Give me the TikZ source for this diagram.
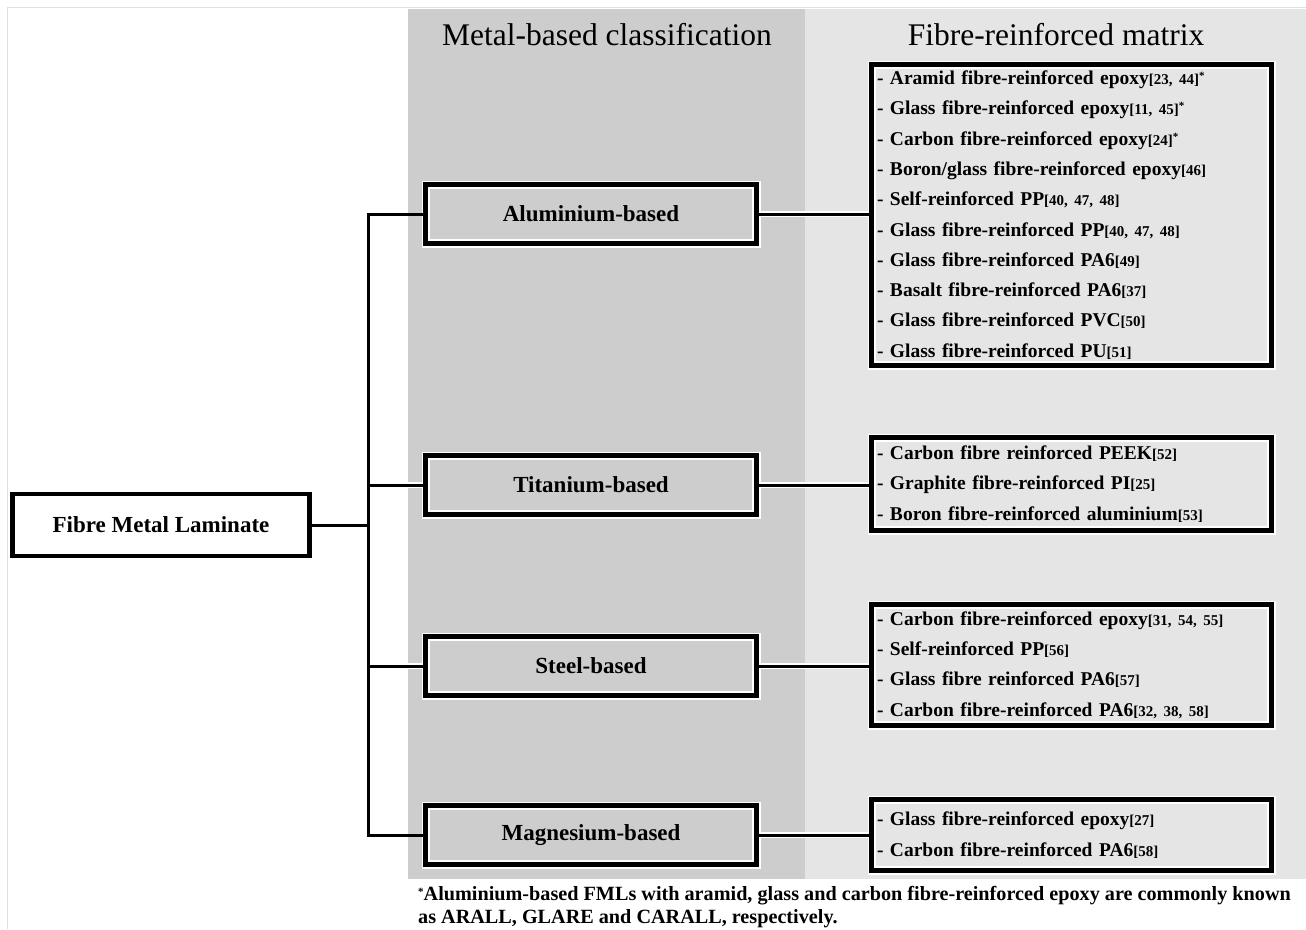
\documentclass[tikz,border=0pt]{standalone}
\usepackage{fontspec}
\setmainfont{Liberation Serif}
\usepackage{tikz}
\usetikzlibrary{positioning,calc}
\definecolor{colDark}{RGB}{205,205,205}
\definecolor{colLight}{RGB}{229,229,229}
\newcommand{\rf}[1]{{\fontsize{15}{15}\selectfont[#1]}}
\newcommand{\starmark}{\raisebox{5pt}{\fontsize{11}{11}\selectfont*}}
\tikzset{
    headtext/.style={
        font=\fontsize{31.5}{31.5}\selectfont,
        anchor=base
    },
    rootbox/.style={
        draw,
        line width=4.5pt,
        fill=white,
        minimum width=297pt,
        minimum height=62pt,
        font=\fontsize{23}{23}\selectfont\bfseries
    },
    metalbox/.style={
        draw,
        line width=4.5pt,
        fill=colDark,
        minimum width=331pt,
        minimum height=59pt,
        font=\fontsize{23}{23}\selectfont\bfseries,
        preaction={draw=white, line width=8pt}
    },
    fibrebox/.style={
        draw,
        line width=4.5pt,
        fill=colLight,
        text width=389pt,
        inner xsep=5.5pt,
        align=left,
        font=\fontsize{19.5}{30.3}\selectfont\bfseries,
        preaction={draw=white, line width=8pt}
    },
    busline/.style={
        line width=3pt
    },
    link/.style={
        busline,
        preaction={draw=white, line width=6.5pt}
    },
    inset/.style={
        white,
        line width=2.5pt
    }
}

\begin{document}
\begin{tikzpicture}[x=1pt, y=-1pt]
    \useasboundingbox (0,0) rectangle (1306,929);
    % Hintergrund
    \draw[black!12, line width=1pt] (7,929) -- (7,7) -- (1306,7);
    \fill[colDark] (408,9) rectangle (805,879);
    \fill[colLight] (805,9) rectangle (1306,879);

    % Titel
    \node[headtext] (headmetal) at (607,45) {Metal-based classification};
    \node[headtext] (headfibre) at (1056,45) {Fibre-reinforced matrix};

    % Knoten
    \node[rootbox] (fml) at (161,525) {Fibre Metal Laminate};
    \node[metalbox] (alu) at (591,214) {Aluminium-based};
    \node[metalbox] (tita) at (591,485) {Titanium-based};
    \node[metalbox] (steel) at (591,666) {Steel-based};
    \node[metalbox] (magn) at (591,835) {Magnesium-based};

    \node[fibrebox, minimum height=301pt] (alulist) at (1071.5,215) {%
        - Aramid fibre-reinforced epoxy\rf{23, 44}\starmark\\
        - Glass fibre-reinforced epoxy\rf{11, 45}\starmark\\
        - Carbon fibre-reinforced epoxy\rf{24}\starmark\\
        - Boron/glass fibre-reinforced epoxy\rf{46}\\
        - Self-reinforced PP\rf{40, 47, 48}\\
        - Glass fibre-reinforced PP\rf{40, 47, 48}\\
        - Glass fibre-reinforced PA6\rf{49}\\
        - Basalt fibre-reinforced PA6\rf{37}\\
        - Glass fibre-reinforced PVC\rf{50}\\
        - Glass fibre-reinforced PU\rf{51}};
    \node[fibrebox, minimum height=93pt] (titalist) at (1071.5,484) {%
        - Carbon fibre reinforced PEEK\rf{52}\\
        - Graphite fibre-reinforced PI\rf{25}\\
        - Boron fibre-reinforced aluminium\rf{53}};
    \node[fibrebox, minimum height=121pt] (steellist) at (1071.5,665) {%
        - Carbon fibre-reinforced epoxy\rf{31, 54, 55}\\
        - Self-reinforced PP\rf{56}\\
        - Glass fibre reinforced PA6\rf{57}\\
        - Carbon fibre-reinforced PA6\rf{32, 38, 58}};
    \node[fibrebox, minimum height=71pt] (magnlist) at (1071.5,835) {%
        - Glass fibre-reinforced epoxy\rf{27}\\
        - Carbon fibre-reinforced PA6\rf{58}};

    % weisse Innenkante
    \foreach \n in {alu,tita,steel,magn,alulist,titalist,steellist,magnlist}
        \draw[inset] ([shift={(5.75,5.75)}]\n.north west) rectangle ([shift={(-5.75,-5.75)}]\n.south east);

    % Verbindungen
    \coordinate (bus) at (368,525);
    \foreach \m/\l in {alu/alulist,tita/titalist,steel/steellist,magn/magnlist}
        \draw[link] (\m.east) -- (\m.east -| \l.west);
    \foreach \m in {tita,steel}
        \draw[link] (\m.west -| bus) -- (\m.west);
    \draw[busline] (fml.east) -- (fml.east -| bus);
    \draw[busline] (alu.west) -| (bus) |- (magn.west);

    % Fussnote
    \node[anchor=north west, align=left, inner sep=0pt,
          font=\fontsize{20.2}{23}\selectfont\bfseries] (note) at (418,886)
        {\starmark Aluminium-based FMLs with aramid, glass and carbon fibre-reinforced epoxy are commonly known\\
         as ARALL, GLARE and CARALL, respectively.};
\end{tikzpicture}
\end{document}
